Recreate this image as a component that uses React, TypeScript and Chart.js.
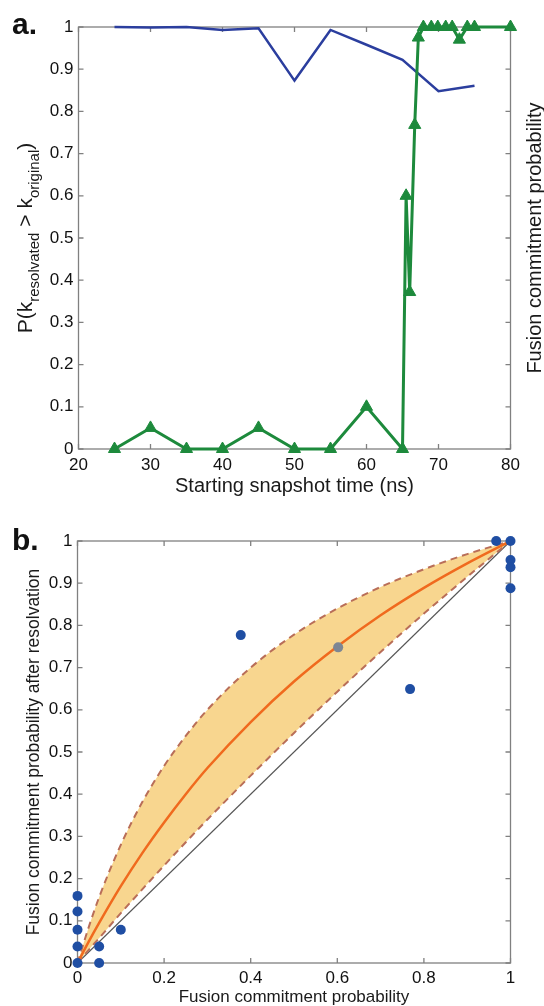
import React, { useEffect, useRef } from "react";
import { Chart, registerables } from "chart.js";
Chart.register(...registerables);

// ---------- Panel a data ----------
const snapshotTimes = [25, 30, 35, 40, 45, 50, 55, 60, 65, 70, 75];
const pResolvated = [1.0, 0.999, 1.0, 0.993, 0.997, 0.873, 0.993, 0.958, 0.922, 0.848, 0.861];

const fusionTimes = [25, 30, 35, 40, 45, 50, 55, 60, 65, 65.5, 66.0, 66.7, 67.2, 67.9, 69.0, 69.9, 71.0, 71.9, 72.9, 74.0, 75.0, 80];
const fusionProb = [0, 0.05, 0, 0, 0.05, 0, 0, 0.1, 0, 0.6, 0.372, 0.768, 0.975, 1, 1, 1, 1, 1, 0.97, 1, 1, 1];

const xTicksA = [20, 30, 40, 50, 60, 70, 80];

// ---------- Panel b data ----------
const originalProb = [0, 0, 0, 0, 0, 0.05, 0.05, 0.1, 0.377, 0.602, 0.768, 0.967, 1, 1, 1, 1];
const resolvatedProb = [0, 0.039, 0.079, 0.122, 0.159, 0.039, 0, 0.079, 0.777, 0.748, 0.649, 1, 1, 0.955, 0.938, 0.888];

const curveX = [0, 0.025, 0.05, 0.1, 0.15, 0.2, 0.25, 0.3, 0.4, 0.5, 0.6, 0.7, 0.8, 0.9, 1];
const fitUpper = [0, 0.082, 0.156, 0.28, 0.382, 0.467, 0.538, 0.6, 0.7, 0.778, 0.84, 0.891, 0.933, 0.969, 1];
const fitMid = [0, 0.049, 0.095, 0.182, 0.261, 0.333, 0.4, 0.462, 0.571, 0.667, 0.75, 0.824, 0.889, 0.947, 1];
const fitLower = [0, 0.03, 0.059, 0.118, 0.175, 0.231, 0.286, 0.34, 0.444, 0.545, 0.643, 0.737, 0.828, 0.915, 1];
const diagX = [0, 1];
const diagY = [0, 1];

const FONT = "'Liberation Sans', Arial, Helvetica, sans-serif";
const TICK_COLOR = "#111111";
const BOX_COLOR = "#808080";

const pts = (xs: number[], ys: number[]) => xs.map((x, i) => ({ x, y: ys[i] }));
const fmt = (v: any) => String(Math.round(Number(v) * 100) / 100);

const framePlugin = {
  id: "frame",
  beforeDatasetsDraw(chart: any) {
    const { ctx, chartArea: a, scales } = chart;
    ctx.save();
    ctx.strokeStyle = BOX_COLOR;
    ctx.lineWidth = 1.3;
    ctx.strokeRect(a.left, a.top, a.right - a.left, a.bottom - a.top);
    ctx.beginPath();
    for (const t of scales.x.ticks) {
      const px = scales.x.getPixelForValue(t.value);
      ctx.moveTo(px, a.bottom);
      ctx.lineTo(px, a.bottom - 5);
      ctx.moveTo(px, a.top);
      ctx.lineTo(px, a.top + 5);
    }
    for (const t of scales.y.ticks) {
      const py = scales.y.getPixelForValue(t.value);
      ctx.moveTo(a.left, py);
      ctx.lineTo(a.left + 5, py);
      ctx.moveTo(a.right, py);
      ctx.lineTo(a.right - 5, py);
    }
    ctx.stroke();
    ctx.restore();
  },
};

type Part = { text: string; size: number; dy: number };

function drawRotated(ctx: CanvasRenderingContext2D, parts: Part[], x: number, yCenter: number) {
  ctx.save();
  ctx.translate(x, yCenter);
  ctx.rotate(-Math.PI / 2);
  ctx.fillStyle = "#1a1a1a";
  ctx.textBaseline = "alphabetic";
  ctx.textAlign = "left";
  let total = 0;
  for (const p of parts) {
    ctx.font = `${p.size}px ${FONT}`;
    total += ctx.measureText(p.text).width;
  }
  let cx = -total / 2;
  for (const p of parts) {
    ctx.font = `${p.size}px ${FONT}`;
    ctx.fillText(p.text, cx, p.dy);
    cx += ctx.measureText(p.text).width;
  }
  ctx.restore();
}

const titlesA = {
  id: "titlesA",
  afterDraw(chart: any) {
    const { ctx, chartArea: a } = chart;
    ctx.save();
    ctx.fillStyle = "#111";
    ctx.font = `bold 30px ${FONT}`;
    ctx.textAlign = "left";
    ctx.textBaseline = "alphabetic";
    ctx.fillText("a.", 12, 34);
    ctx.font = `20px ${FONT}`;
    ctx.textAlign = "center";
    ctx.fillStyle = "#1a1a1a";
    ctx.fillText("Starting snapshot time (ns)", (a.left + a.right) / 2, 492);
    ctx.restore();
    const cy = (a.top + a.bottom) / 2;
    drawRotated(
      ctx,
      [
        { text: "P(k", size: 21, dy: 0 },
        { text: "resolvated", size: 15, dy: 7 },
        { text: " > k", size: 21, dy: 0 },
        { text: "original", size: 15, dy: 7 },
        { text: ")", size: 21, dy: 0 },
      ],
      31.5,
      cy
    );
    drawRotated(ctx, [{ text: "Fusion commitment probability", size: 20, dy: 0 }], 541, cy);
  },
};

const titlesB = {
  id: "titlesB",
  afterDraw(chart: any) {
    const { ctx, chartArea: a } = chart;
    ctx.save();
    ctx.fillStyle = "#111";
    ctx.font = `bold 30px ${FONT}`;
    ctx.textAlign = "left";
    ctx.textBaseline = "alphabetic";
    ctx.fillText("b.", 12, 45);
    ctx.font = `17px ${FONT}`;
    ctx.textAlign = "center";
    ctx.fillStyle = "#1a1a1a";
    ctx.fillText("Fusion commitment probability", (a.left + a.right) / 2, 496.5);
    ctx.restore();
    drawRotated(
      ctx,
      [{ text: "Fusion commitment probability after resolvation", size: 17.5, dy: 0 }],
      39,
      (a.top + a.bottom) / 2
    );
  },
};

export default function App() {
  const refA = useRef<HTMLCanvasElement>(null);
  const refB = useRef<HTMLCanvasElement>(null);

  useEffect(() => {
    Chart.defaults.font.family = FONT;

    const chartA = new Chart(refA.current as HTMLCanvasElement, {
      type: "line",
      data: {
        datasets: [
          {
            data: pts(fusionTimes, fusionProb),
            yAxisID: "y2",
            borderColor: "#1d8a3c",
            backgroundColor: "#1d8a3c",
            borderWidth: 3,
            pointStyle: "triangle",
            pointRadius: 7,
            pointBackgroundColor: "#1d8a3c",
            pointBorderColor: "#1d8a3c",
            pointBorderWidth: 1,
            clip: false,
            tension: 0,
          } as any,
          {
            data: pts(snapshotTimes, pResolvated),
            yAxisID: "y",
            borderColor: "#2b3e9e",
            borderWidth: 2.5,
            pointRadius: 0,
            clip: false,
            tension: 0,
          } as any,
        ],
      },
      options: {
        animation: false,
        responsive: false,
        events: [],
        layout: { padding: { top: 27, left: 0, right: 0, bottom: 0 } },
        plugins: { legend: { display: false }, tooltip: { enabled: false } },
        scales: {
          x: {
            type: "linear",
            min: 20,
            max: 80,
            afterBuildTicks: (s: any) => {
              s.ticks = xTicksA.map((v) => ({ value: v }));
            },
            ticks: { padding: 6, font: { size: 17 }, color: TICK_COLOR, maxRotation: 0, callback: fmt },
            grid: { display: false, drawTicks: false },
            border: { display: false },
            afterFit: (s: any) => {
              s.height = 505 - 449;
            },
          },
          y: {
            type: "linear",
            min: 0,
            max: 1,
            ticks: { stepSize: 0.1, padding: 5, font: { size: 17 }, color: TICK_COLOR, callback: fmt },
            grid: { display: false, drawTicks: false },
            border: { display: false },
            afterFit: (s: any) => {
              s.width = 78.5;
            },
          },
          y2: {
            type: "linear",
            position: "right",
            min: 0,
            max: 1,
            ticks: { display: false },
            grid: { display: false, drawTicks: false },
            border: { display: false },
            afterFit: (s: any) => {
              s.width = 33.5;
            },
          },
        },
      } as any,
      plugins: [framePlugin, titlesA],
    });

    const chartB = new Chart(refB.current as HTMLCanvasElement, {
      type: "line",
      data: {
        datasets: [
          {
            type: "scatter",
            data: pts(originalProb, resolvatedProb),
            showLine: false,
            pointRadius: 5,
            pointBorderWidth: 0,
            pointBackgroundColor: (c: any) => (c.dataIndex === 9 ? "#7d8694" : "#1f4ea3"),
            pointBorderColor: (c: any) => (c.dataIndex === 9 ? "#7d8694" : "#1f4ea3"),
            clip: false,
          } as any,
          {
            data: pts(curveX, fitMid),
            borderColor: "#f06a1e",
            borderWidth: 2.5,
            pointRadius: 0,
            cubicInterpolationMode: "monotone",
            fill: false,
          } as any,
          {
            data: pts(curveX, fitUpper),
            borderColor: "#b96e58",
            borderWidth: 2,
            borderDash: [7, 5],
            pointRadius: 0,
            cubicInterpolationMode: "monotone",
            fill: "+1",
            backgroundColor: "#f8d68f",
          } as any,
          {
            data: pts(curveX, fitLower),
            borderColor: "#b96e58",
            borderWidth: 2,
            borderDash: [7, 5],
            pointRadius: 0,
            cubicInterpolationMode: "monotone",
            fill: false,
          } as any,
          {
            data: pts(diagX, diagY),
            borderColor: "#555555",
            borderWidth: 1.2,
            pointRadius: 0,
            fill: false,
          } as any,
        ],
      },
      options: {
        animation: false,
        responsive: false,
        events: [],
        layout: { padding: { top: 36, left: 0, right: 33.5, bottom: 0 } },
        plugins: {
          legend: { display: false },
          tooltip: { enabled: false },
          filler: { drawTime: "beforeDatasetsDraw" },
        },
        scales: {
          x: {
            type: "linear",
            min: 0,
            max: 1,
            ticks: { stepSize: 0.2, padding: 5, font: { size: 17 }, color: TICK_COLOR, maxRotation: 0, callback: fmt },
            grid: { display: false, drawTicks: false },
            border: { display: false },
            afterFit: (s: any) => {
              s.height = 501 - 458;
            },
          },
          y: {
            type: "linear",
            min: 0,
            max: 1,
            ticks: { stepSize: 0.1, padding: 5, font: { size: 17 }, color: TICK_COLOR, callback: fmt },
            grid: { display: false, drawTicks: false },
            border: { display: false },
            afterFit: (s: any) => {
              s.width = 77.5;
            },
          },
        },
      } as any,
      plugins: [framePlugin, titlesB],
    });

    return () => {
      chartA.destroy();
      chartB.destroy();
    };
  }, []);

  return (
    <div style={{ position: "absolute", left: 0, top: 0, width: 544, height: 1006, background: "#fff" }}>
      <canvas
        ref={refA}
        width={544}
        height={505}
        style={{ position: "absolute", left: 0, top: 0, width: 544, height: 505 }}
      />
      <canvas
        ref={refB}
        width={544}
        height={501}
        style={{ position: "absolute", left: 0, top: 505, width: 544, height: 501 }}
      />
    </div>
  );
}
